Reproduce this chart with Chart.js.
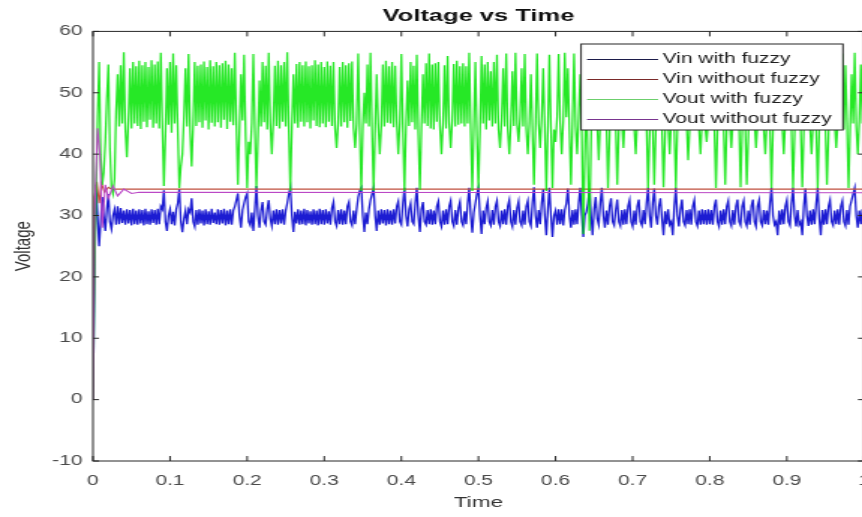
<!DOCTYPE html>
<html><head><meta charset="utf-8">
<script src="https://cdn.jsdelivr.net/npm/chart.js@4.4.1/dist/chart.umd.min.js"></script>
<style>
html,body{margin:0;padding:0;background:#fff;overflow:hidden;width:862px;height:517px;}
#wrap{position:absolute;left:0;top:0;width:580px;height:517px;transform:scaleX(1.4991);transform-origin:0 0;}
canvas{display:block;}
</style></head><body>
<div id="wrap"><canvas id="c" width="580" height="517"></canvas></div>
<script>
// ---- data ----
const time = [
0,0.002,0.004,0.006,0.008,0.010,0.012,0.014,0.016,0.018,0.020,0.022,0.024,0.026,0.028,0.030,0.032,0.034,0.036,0.038,
0.040,0.042,0.044,0.046,0.048,0.050,0.052,0.054,0.056,0.058,0.060,0.062,0.064,0.066,0.068,0.070,0.072,0.074,0.076,0.078,
0.080,0.082,0.084,0.086,0.088,0.090,0.092,0.094,0.096,0.098,0.100,0.102,0.104,0.106,0.108,0.110,0.112,0.114,0.116,0.118,
0.120,0.122,0.124,0.126,0.128,0.130,0.132,0.134,0.136,0.138,0.140,0.142,0.144,0.146,0.148,0.150,0.152,0.154,0.156,0.158,
0.160,0.162,0.164,0.166,0.168,0.170,0.172,0.174,0.176,0.178,0.180,0.182,0.184,0.186,0.188,0.190,0.192,0.194,0.196,0.198,
0.200,0.202,0.204,0.206,0.208,0.210,0.212,0.214,0.216,0.218,0.220,0.222,0.224,0.226,0.228,0.230,0.232,0.234,0.236,0.238,
0.240,0.242,0.244,0.246,0.248,0.250,0.252,0.254,0.256,0.258,0.260,0.262,0.264,0.266,0.268,0.270,0.272,0.274,0.276,0.278,
0.280,0.282,0.284,0.286,0.288,0.290,0.292,0.294,0.296,0.298,0.300,0.302,0.304,0.306,0.308,0.310,0.312,0.314,0.316,0.318,
0.320,0.322,0.324,0.326,0.328,0.330,0.332,0.334,0.336,0.338,0.340,0.342,0.344,0.346,0.348,0.350,0.352,0.354,0.356,0.358,
0.360,0.362,0.364,0.366,0.368,0.370,0.372,0.374,0.376,0.378,0.380,0.382,0.384,0.386,0.388,0.390,0.392,0.394,0.396,0.398,
0.400,0.402,0.404,0.406,0.408,0.410,0.412,0.414,0.416,0.418,0.420,0.422,0.424,0.426,0.428,0.430,0.432,0.434,0.436,0.438,
0.440,0.442,0.444,0.446,0.448,0.450,0.452,0.454,0.456,0.458,0.460,0.462,0.464,0.466,0.468,0.470,0.472,0.474,0.476,0.478,
0.480,0.482,0.484,0.486,0.488,0.490,0.492,0.494,0.496,0.498,0.500,0.502,0.504,0.506,0.508,0.510,0.512,0.514,0.516,0.518,
0.520,0.522,0.524,0.526,0.528,0.530,0.532,0.534,0.536,0.538,0.540,0.542,0.544,0.546,0.548,0.550,0.552,0.554,0.556,0.558,
0.560,0.562,0.564,0.566,0.568,0.570,0.572,0.574,0.576,0.578,0.580,0.582,0.584,0.586,0.588,0.590,0.592,0.594,0.596,0.598,
0.600,0.602,0.604,0.606,0.608,0.610,0.612,0.614,0.616,0.618,0.620,0.622,0.624,0.626,0.628,0.630,0.632,0.634,0.636,0.638,
0.640,0.642,0.644,0.646,0.648,0.650,0.652,0.654,0.656,0.658,0.660,0.662,0.664,0.666,0.668,0.670,0.672,0.674,0.676,0.678,
0.680,0.682,0.684,0.686,0.688,0.690,0.692,0.694,0.696,0.698,0.700,0.702,0.704,0.706,0.708,0.710,0.712,0.714,0.716,0.718,
0.720,0.722,0.724,0.726,0.728,0.730,0.732,0.734,0.736,0.738,0.740,0.742,0.744,0.746,0.748,0.750,0.752,0.754,0.756,0.758,
0.760,0.762,0.764,0.766,0.768,0.770,0.772,0.774,0.776,0.778,0.780,0.782,0.784,0.786,0.788,0.790,0.792,0.794,0.796,0.798,
0.800,0.802,0.804,0.806,0.808,0.810,0.812,0.814,0.816,0.818,0.820,0.822,0.824,0.826,0.828,0.830,0.832,0.834,0.836,0.838,
0.840,0.842,0.844,0.846,0.848,0.850,0.852,0.854,0.856,0.858,0.860,0.862,0.864,0.866,0.868,0.870,0.872,0.874,0.876,0.878,
0.880,0.882,0.884,0.886,0.888,0.890,0.892,0.894,0.896,0.898,0.900,0.902,0.904,0.906,0.908,0.910,0.912,0.914,0.916,0.918,
0.920,0.922,0.924,0.926,0.928,0.930,0.932,0.934,0.936,0.938,0.940,0.942,0.944,0.946,0.948,0.950,0.952,0.954,0.956,0.958,
0.960,0.962,0.964,0.966,0.968,0.970,0.972,0.974,0.976,0.978,0.980,0.982,0.984,0.986,0.988,0.990,0.992,0.994,0.996,0.998,
1.000];

const vinWithFuzzy = [
0,20,35,30,25,29,33,30,27.5,31,33.5,29,27.8,30,31,28.5,31.5,28.6,31.2,28.8,
30.8,28.5,31,28.7,30.9,28.4,31.1,28.6,30.8,28.5,31,28.7,30.9,28.4,31.1,28.6,30.7,28.5,31,28.8,
30.9,28.5,31.1,28.6,31.5,31,34.1,29,27.5,30,31,28.6,30.6,28.4,31,32,34.3,29,27.3,29.5,
30.8,28.6,31,30.5,32.8,29,28.2,30.9,28.5,31,28.7,30.8,28.4,31,28.6,30.7,28.5,31.1,28.8,30.5,
28.6,31,28.5,30.9,28.7,31.1,28.4,30.8,28.6,31,28.5,30.8,31.5,32.5,33.6,30,28,30.9,32,33,
33.6,29,28.4,30.5,27.5,31,34.8,30,28,30.8,32.2,29,28.5,31,32.5,29.5,28.3,30.8,28.6,31,
28.5,30.9,28.7,31,28.5,30.8,32,33.5,34.5,30,27.3,30.6,28.7,31,28.5,30.8,28.6,31.1,28.4,30.9,
28.7,30.7,28.5,31,28.6,30.8,28.4,31.1,28.6,30.9,28.5,31,28.7,30.7,28.5,31.2,32.2,29,28.3,30.9,
28.6,31,28.5,30.8,28.6,31.5,32.2,29,28.4,30.8,28.6,31,33,34,34.5,30,27.3,30.5,28.6,31,
32.5,33.5,34.5,30,27.5,30.8,28.5,31,28.7,30.9,28.4,31,28.6,30.8,28.5,31,28.7,31.5,32.3,29,
28.5,32,34.5,30,28.2,31,32,29,28.6,32,34.5,30,27.3,31,32.2,29,28.5,30.9,28.6,31,
28.5,30.8,28.6,31.5,32.3,29,28.2,30.8,28.5,31,28.6,31.5,32.4,29,28.3,30.9,28.5,31.2,32.2,29,
28.4,30.7,28.6,32,34.5,30,27.2,30.5,32,33.5,34.5,30,27,30.8,28.6,31.2,32.3,29,28.4,30.9,
28.5,31.5,32.4,29,28.3,30.8,28.6,31,28.5,31.5,32.5,29,28.2,30.9,28.5,31.2,32.3,29,28.4,30.8,
28.5,31.5,32.4,29,28.3,32,34.6,30,28,30.9,28.6,32,34.3,30,26.8,31,34.5,30,26.5,30,
30.8,28.5,31,28.6,31,28.4,30.9,32,34.4,30,28,30.9,28.5,31,28.6,32,34.5,30,26.5,30,
30.6,32,34.4,30,26.8,31,33,29.5,28.5,32,34.5,30,28,30.8,28.5,31.5,32.8,29,28.4,30.9,
32.6,29,28.3,30.9,28.5,31,28.6,31.5,32.5,29,28.2,30.8,28.5,31.5,32.6,29,28.4,30.9,28.6,32,
34.5,30,28,32,34.4,30,28.5,31.5,32.8,29.5,26.8,30.7,28.6,31,28.5,29,26.8,31.5,34.5,30,
28.2,31,32.6,29,28.4,30.9,28.6,31,28.5,31.5,32.5,29,28.3,30.8,28.5,31,28.6,30.9,28.5,31,
28.6,30.9,28.5,31.5,32.6,29,28.2,30.8,28.5,31,28.6,31.5,32.4,29,28.3,30.9,28.5,31.5,32.6,29,
28.4,31.5,32.4,29,28.3,30.8,28.5,31.5,32.6,29,28.2,31.5,32.5,29,28.4,30.9,28.6,30.8,28.5,32,
34.5,30,28.5,29,26.8,30.8,28.5,31,28.6,31.5,32.5,29,28.4,32,34.5,30,28.2,30.9,28.5,29,
26.8,31.5,34.4,30,28.3,30.8,28.5,31,28.6,32,34.5,29.5,26.8,30.9,28.5,31,28.6,31.5,32.5,29,
28.4,30.8,28.6,31,28.5,31.5,32.4,29,28.3,30.9,28.5,31.5,32.5,33.5,34.5,30,28,30.8,28.6,31,
28.6];

const voutWithFuzzy = [
0,22,33,46,55,40,35,37,42,49,54.6,41,34.5,33.5,36,47,53,44.5,54.5,45,
56.6,44,39.5,45.5,54,44.2,55,45,54.3,44.6,55.2,44.1,54.5,45.3,55,44.4,54.2,45.6,55.3,44.3,
54.6,45,55.1,44.2,56.5,45,34.8,43,54,44.8,55,43.5,56.4,45,54.5,44,34.5,38,40,46,
54,44.5,56.3,44,38,45,55,44.6,54.4,45.2,54.6,44.3,55.1,45.5,54.2,44,55.3,45.1,54.3,44.5,
55,45.2,54.5,44.3,54.8,45.6,55.2,44.1,54.6,45.3,54,44.7,56.5,45,35,44,53,45.5,56.2,43,
34.5,42,40,45,56.3,44,34.5,43,52,44.5,55,45.2,54.4,44,56.5,45,40,45.5,54.4,44.6,
55.2,44.2,54.5,45.3,55,44.5,56.6,44,34,44.6,53,45,54.7,44.3,55,45.3,54.5,44.5,55.1,45.2,
54.3,44.2,54.5,45.5,55.3,44.6,54.6,44.4,55,45,54.2,44.4,55.1,45.3,54.4,44.6,55,44.2,41,45,
54.2,44.5,55,45.2,54.5,44.3,54.8,45.4,55.1,44.3,41,45,56.4,44,34,44.5,50,45,54.6,44.5,
56.5,44,34,44.2,53,45,40,44.6,54.6,44.5,55.2,45.1,54.3,45,55,44.4,54.4,45.3,40,45,
56.3,44,34,44.5,52,44.6,55,45.2,54.4,44,56.2,43.5,34.2,44.3,53,45,54.8,44.6,56.4,44.2,
54.6,44,54.8,45.3,55,44.6,40,45,54.5,44.2,56,45,41,45.5,54.7,44.5,55.2,44.8,54.3,45,
54.8,44.5,54.3,45,56.5,44,34,44.6,55,43,34.5,44,56,45,54.6,44,55,45.5,53.5,44.5,
55,45,56.2,44,41,45.5,54,44.5,56.4,44,40,45,53.5,44.6,56.5,45,42,46,54,44.5,
56.3,44.2,40,45,53,44,35,44.6,56.4,45,41,46,54,44.5,34,44,56.2,44.5,34.5,44,
42,46,56.3,45,40,45.5,56.5,46,54,44,35,45,56.4,44.6,40,46,53,44,27,40,
50,38,27.5,42,54.5,44,55,45,39,45.3,56.3,44.5,54,45,34.5,43,54,44.6,55,45,
35,44,55,45.3,41,46,54.6,44,55.3,45,55,44.5,40,45.6,54.2,44.2,56.4,44,54.5,45,
34.5,43,52,44.5,35,44,54,45,56.3,44.4,34.6,43,50,45,40,45.6,55,44.3,34.5,44,
54,45,55.2,44.6,54.5,45.2,39,44.5,56.5,44.6,54.8,45,55.3,44.3,40,45.5,55,44.6,42,45.4,
54.4,45,55.1,44.5,34.5,44,56.4,46,54,44.5,35,44.6,54,45.2,41,45.5,55,44.4,54.2,45.5,
34.6,44,56.4,44.6,35,43,54.5,44.6,55,45.3,41,45,56.3,45,54.5,44.2,40,45.5,54.8,44.6,
34.5,44,55,45.2,56.4,44,54.4,45,40,45.5,54.7,45,55.2,44.4,34.5,43,53,45,56.3,44.2,
34.6,44,54,45,55,44.6,40,45.2,55,44.4,34.5,44,56.4,46,54.5,44.4,35,43,54.2,45.2,
54.6,45.2,41,45,55,44.3,56.4,44,54.5,45.3,34.5,44,53,45,56.5,44.6,40,45.5,54.6,45,
54.8];

const vinNoFuzzyTime = [0,0.002,0.005,0.008,0.011,0.015,0.02,0.025,0.03,1];
const vinNoFuzzy     = [0,33,35.5,32,35.2,33.8,34.6,34.2,34.3,34.3];

const voutNoFuzzyTime = [0,0.002,0.006,0.009,0.012,0.016,0.02,0.026,0.032,0.04,0.05,0.06,1];
const voutNoFuzzy     = [0,30,44.2,40,28,35,32.8,34.8,33.2,34.3,33.6,33.8,33.7];

const seriesLabels = ['Vin with fuzzy','Vin without fuzzy','Vout with fuzzy','Vout without fuzzy'];
const xTickValues = [0,0.1,0.2,0.3,0.4,0.5,0.6,0.7,0.8,0.9,1];
const yTickValues = [-10,0,10,20,30,40,50,60];

// ---- styling ----
const FONT = "'Liberation Sans', Arial, Helvetica, sans-serif";
Chart.defaults.font.family = FONT;

const axesBox = {
  id: 'axesBox',
  afterDatasetsDraw(chart) {
    const {ctx, chartArea: a, scales: {x, y}} = chart;
    ctx.save();
    ctx.strokeStyle = '#262626';
    ctx.lineWidth = 1;
    ctx.strokeRect(a.left, a.top, a.right - a.left, a.bottom - a.top);
    ctx.beginPath();
    x.ticks.forEach(t => {
      const px = x.getPixelForValue(t.value);
      ctx.moveTo(px, a.bottom); ctx.lineTo(px, a.bottom - 5);
      ctx.moveTo(px, a.top); ctx.lineTo(px, a.top + 5);
    });
    y.ticks.forEach(t => {
      const py = y.getPixelForValue(t.value);
      ctx.moveTo(a.left, py); ctx.lineTo(a.left + 4, py);
      ctx.moveTo(a.right, py); ctx.lineTo(a.right - 4, py);
    });
    ctx.stroke();
    ctx.restore();
  }
};

const boxLegend = {
  id: 'boxLegend',
  afterDraw(chart) {
    const {ctx, chartArea: a} = chart;
    const w = 174.7, h = 86;
    const left = a.right - 14 - w, top = a.top + 12.6;
    ctx.save();
    ctx.fillStyle = '#ffffff';
    ctx.fillRect(left, top, w, h);
    ctx.strokeStyle = '#262626';
    ctx.lineWidth = 1;
    ctx.strokeRect(left, top, w, h);
    ctx.font = "14px " + FONT;
    ctx.textBaseline = 'middle';
    ctx.textAlign = 'left';
    chart.data.datasets.forEach((ds, k) => {
      const yy = top + 15.5 + 20 * k;
      ctx.strokeStyle = ds.legendColor;
      ctx.lineWidth = 1;
      ctx.beginPath(); ctx.moveTo(left + 4, yy); ctx.lineTo(left + 51.4, yy); ctx.stroke();
      ctx.fillStyle = '#1e1e1e';
      ctx.fillText(ds.label, left + 54.4, yy);
    });
    ctx.restore();
  }
};

new Chart(document.getElementById('c'), {
  type: 'line',
  data: {
    labels: time,
    datasets: [
      {label: seriesLabels[0], data: vinWithFuzzy, borderColor: '#1c1cd2', legendColor: '#1c1c4a', borderWidth: 1.3, order: 3},
      {label: seriesLabels[1], data: vinNoFuzzyTime.map((t, i) => ({x: t, y: vinNoFuzzy[i]})), borderColor: '#c0503f', legendColor: '#7a2a2a', borderWidth: 1.1, order: 2},
      {label: seriesLabels[2], data: voutWithFuzzy, borderColor: 'rgba(0,228,0,0.85)', legendColor: '#6ccf6c', borderWidth: 1.3, order: 1},
      {label: seriesLabels[3], data: voutNoFuzzyTime.map((t, i) => ({x: t, y: voutNoFuzzy[i]})), borderColor: '#bb48c6', legendColor: '#7a3590', borderWidth: 1.1, order: 0}
    ]
  },
  options: {
    responsive: false,
    animation: false,
    events: [],
    layout: {padding: {left: 0, right: 3.7, top: 0, bottom: 0}},
    elements: {point: {radius: 0}, line: {tension: 0, fill: false}},
    plugins: {
      legend: {display: false},
      tooltip: {enabled: false},
      title: {display: true, text: 'Voltage vs Time', fullSize: false, color: '#111',
              font: {size: 17, weight: 'bold'}, padding: {top: 6, bottom: 5}}
    },
    scales: {
      x: {
        type: 'linear', min: 0, max: 1,
        afterBuildTicks: s => { s.ticks = xTickValues.map(v => ({value: v})); },
        afterFit: s => { s.height = 56; s.paddingLeft = 0; s.paddingRight = 0; },
        grid: {display: false, drawTicks: false},
        border: {display: false},
        ticks: {padding: 12, color: '#4a4a4a', font: {size: 14}, maxRotation: 0, autoSkip: false, callback: v => String(v)},
        title: {display: true, text: 'Time', color: '#333', font: {size: 15}, padding: {top: 0, bottom: 5}}
      },
      y: {
        type: 'linear', min: -10, max: 60,
        afterBuildTicks: s => { s.ticks = yTickValues.map(v => ({value: v})); },
        afterFit: s => { s.width = 62; },
        grid: {display: false, drawTicks: false},
        border: {display: false},
        ticks: {padding: 7, color: '#4a4a4a', font: {size: 14}, callback: v => String(v)},
        title: {display: true, text: 'Voltage', color: '#333', font: {size: 15}, padding: {top: 7, bottom: 0}}
      }
    }
  },
  plugins: [axesBox, boxLegend]
});
</script>
</body></html>
